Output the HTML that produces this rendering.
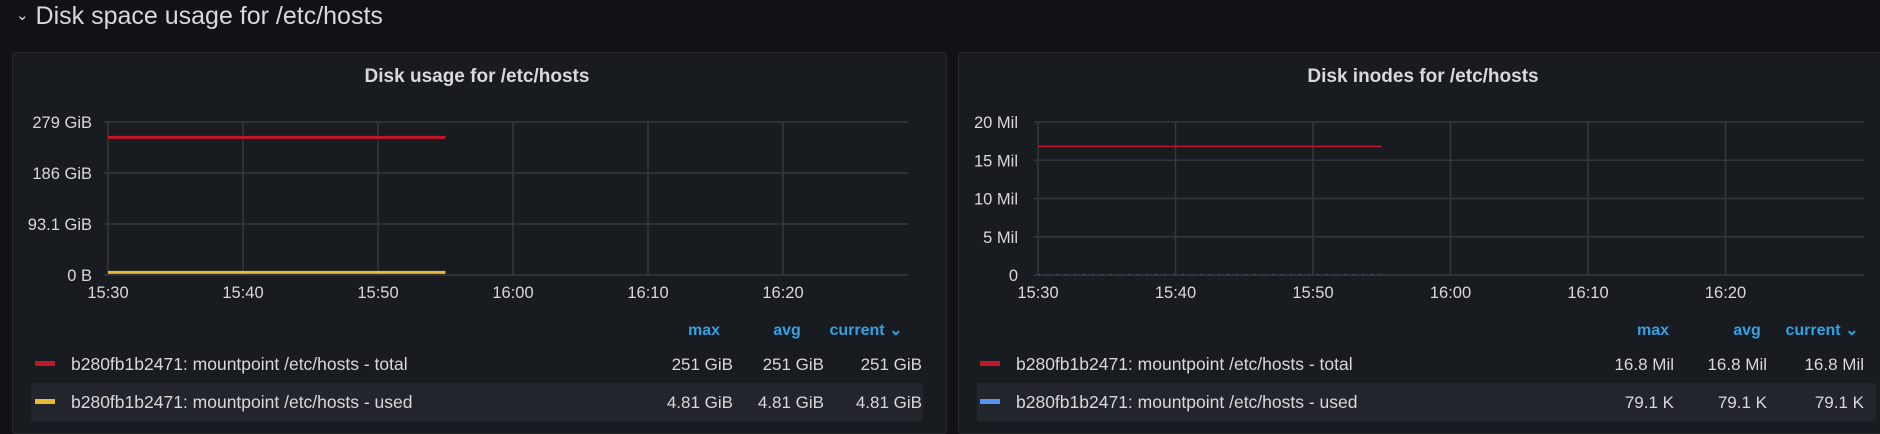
<!DOCTYPE html>
<html><head><meta charset="utf-8">
<style>
html,body{margin:0;padding:0;background:#111217;width:1880px;height:423px;overflow:hidden;font-family:"Liberation Sans",sans-serif;color:#d8d9da}
.heading{position:absolute;left:16px;top:2px;font-size:25px;color:#d8d9da}
.panel{position:absolute;top:52px;height:380px;background:#181b1f;border:1px solid #25282d;border-radius:3px}
svg{position:absolute;left:0;top:0}
</style></head><body>
<div class="heading"><span style="font-size:15px;vertical-align:4px">&#8964;</span> Disk space usage for /etc/hosts</div>
<div class="panel" style="left:12px;width:933px"></div>
<div class="panel" style="left:958px;width:930px"></div>
<svg id="chart" width="1880" height="423"></svg>
<script>
const timeTicks = ["15:30","15:40","15:50","16:00","16:10","16:20"];
const tickMinutes = [0,10,20,30,40,50];
const seriesTimes = [0,25];
const usageTotal = [251,251];
const usageUsed = [4.81,4.81];
const usageTicks = [0,93.1,186,279];
const usageTickLabels = ["0 B","93.1 GiB","186 GiB","279 GiB"];
const inodeTotal = [16.8,16.8];
const inodeUsed = [0.0791,0.0791];
const inodeTicks = [0,5,10,15,20];
const inodeTickLabels = ["0","5 Mil","10 Mil","15 Mil","20 Mil"];
const usageLegend = [["b280fb1b2471: mountpoint /etc/hosts - total","#c4162a",["251 GiB","251 GiB","251 GiB"]],["b280fb1b2471: mountpoint /etc/hosts - used","#eab839",["4.81 GiB","4.81 GiB","4.81 GiB"]]];
const inodeLegend = [["b280fb1b2471: mountpoint /etc/hosts - total","#c4162a",["16.8 Mil","16.8 Mil","16.8 Mil"]],["b280fb1b2471: mountpoint /etc/hosts - used","#5794f2",["79.1 K","79.1 K","79.1 K"]]];

const svg = document.getElementById('chart');
const NS = 'http://www.w3.org/2000/svg';
function mk(tag, attrs, txt){const e=document.createElementNS(NS,tag);for(const k in attrs)e.setAttribute(k,attrs[k]);if(txt!==undefined)e.textContent=txt;svg.appendChild(e);return e;}

function drawPanel(p){
  const x = m => p.x0 + m*p.pxPerMin;
  const y = v => p.yBottom - (v/p.yMax)*(p.yBottom-p.yTop);
  let t = mk('text',{x:p.titleX,y:82,'text-anchor':'middle','font-size':19,'font-weight':'bold',fill:'#d8d9da'},p.title);
  
  
  p.ticks.forEach((v,i)=>{
    const g = mk('line',{x1:p.x0-4,x2:p.xEnd,y1:y(v),y2:y(v),stroke:'#34373c','stroke-width':1.5});
    
    
    const l = mk('text',{x:p.labelRight,y:y(v)+6,'text-anchor':'end','font-size':16.5,fill:'#d8d9da'},p.tickLabels[i]);
    
    
  });
  tickMinutes.forEach((m,i)=>{
    const g = mk('line',{x1:x(m),x2:x(m),y1:p.yTop,y2:p.yBottom,stroke:'#34373c','stroke-width':1.5});
    
    
    const l = mk('text',{x:x(m),y:298,'text-anchor':'middle','font-size':16.5,fill:'#d8d9da'},timeTicks[i]);
    
    
  });
  p.series.forEach((s,si)=>{
    const pts = seriesTimes.map((m,i)=>x(m)+','+y(s.values[i])).join(' ');
    const pl = mk('polyline',{points:pts,fill:'none',stroke:s.color,'stroke-width':s.w});
    if(s.dash) pl.setAttribute('stroke-dasharray',s.dash);
    if(s.op) pl.setAttribute('stroke-opacity',s.op);
    
    
  });
  ['max','avg','current \u2304'].forEach((h,i)=>{
    const e = mk('text',{x:p.headerX[i],y:335,'text-anchor':'middle','font-size':16,'font-weight':'bold',fill:'#33a2e5'},h);
    
    
  });
  p.legend.forEach((r,ri)=>{
    const cy = 364 + ri*38;
    if(ri===1){const b=mk('rect',{x:p.bandX,y:cy-19,width:p.bandW,height:38,fill:'#22252b'});
      
      }
    const sw = mk('rect',{x:p.swX,y:cy-3,width:20,height:5,fill:r[1]});
    
    
    const tx = mk('text',{x:p.swX+36,y:cy+6,'font-size':17.5,fill:'#d8d9da'},r[0]);
    
    
    r[2].forEach((v,vi)=>{
      const ve = mk('text',{x:p.valRight[vi],y:cy+6,'text-anchor':'end','font-size':17,fill:'#d8d9da'},v);
      
      
    });
  });
}
drawPanel({title:'Disk usage for /etc/hosts',titleX:477,x0:108,pxPerMin:13.5,xEnd:908,yTop:122,yBottom:275,yMax:279,
  ticks:usageTicks,tickLabels:usageTickLabels,labelRight:92,
  series:[{values:usageTotal,color:'#c4162a',w:3},{values:usageUsed,color:'#eab839',w:3}],
  legend:usageLegend,headerX:[704,787,866],valRight:[733,824,922],bandX:31,bandW:892,swX:35});
drawPanel({title:'Disk inodes for /etc/hosts',titleX:1423,x0:1038,pxPerMin:13.75,xEnd:1864,yTop:122,yBottom:275,yMax:20,
  ticks:inodeTicks,tickLabels:inodeTickLabels,labelRight:1018,
  series:[{values:inodeTotal,color:'#c4162a',w:1.5},{values:inodeUsed,color:'#5794f2',w:1,dash:'2,7',op:0.4}],
  legend:inodeLegend,headerX:[1653,1747,1822],valRight:[1674,1767,1864],bandX:977,bandW:899,swX:980});
</script>
</body></html>
